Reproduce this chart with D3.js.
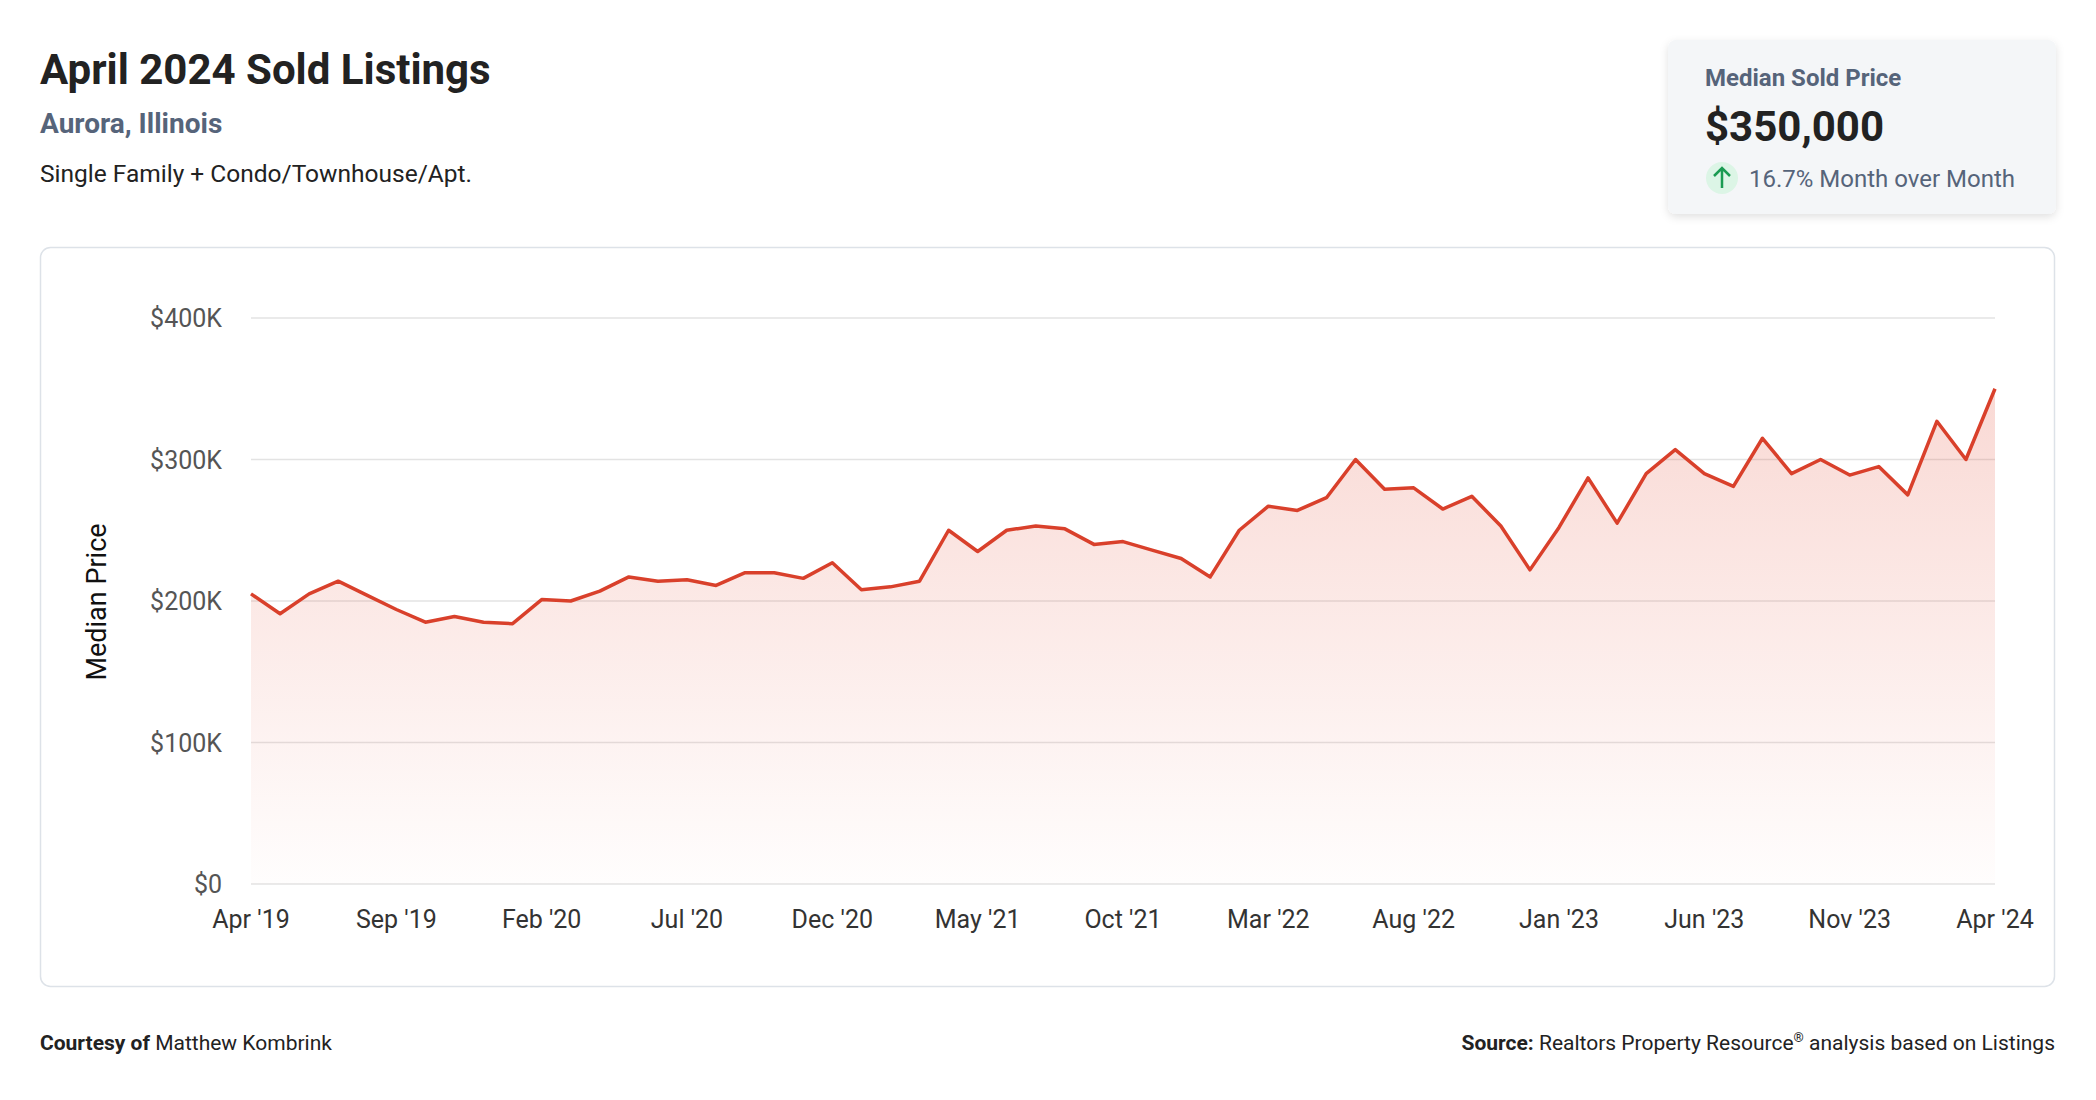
<!DOCTYPE html>
<html><head><meta charset="utf-8">
<script src="https://cdn.jsdelivr.net/npm/d3@7"></script>
<style>
body{margin:0;background:#fff;font-family:Roboto,"Noto Sans",sans-serif;}
svg{display:block}
</style></head><body>
<svg id="c" width="2096" height="1100"></svg>
<script>
const months = ["Apr '19","May '19","Jun '19","Jul '19","Aug '19","Sep '19","Oct '19","Nov '19","Dec '19","Jan '20","Feb '20","Mar '20","Apr '20","May '20","Jun '20","Jul '20","Aug '20","Sep '20","Oct '20","Nov '20","Dec '20","Jan '21","Feb '21","Mar '21","Apr '21","May '21","Jun '21","Jul '21","Aug '21","Sep '21","Oct '21","Nov '21","Dec '21","Jan '22","Feb '22","Mar '22","Apr '22","May '22","Jun '22","Jul '22","Aug '22","Sep '22","Oct '22","Nov '22","Dec '22","Jan '23","Feb '23","Mar '23","Apr '23","May '23","Jun '23","Jul '23","Aug '23","Sep '23","Oct '23","Nov '23","Dec '23","Jan '24","Feb '24","Mar '24","Apr '24"];
const medianPrice = [205,191,205,214,204,194,185,189,185,184,201,200,207,217,214,215,211,220,220,216,227,208,210,214,250,235,250,253,251,240,242,236,230,217,250,267,264,273,300,279,280,265,274,253,222,252,287,255,290,307,290,281,315,290,300,289,295,275,327,300,350].map(v=>v*1000);
const yTicks = [0,100000,200000,300000,400000];
const xTickLabels = ["Apr '19","Sep '19","Feb '20","Jul '20","Dec '20","May '21","Oct '21","Mar '22","Aug '22","Jan '23","Jun '23","Nov '23","Apr '24"];

const svg = d3.select("#c");
const defs = svg.append("defs");
const sh = defs.append("filter").attr("id","sh").attr("x","-10%").attr("y","-10%").attr("width","130%").attr("height","140%");
sh.append("feDropShadow").attr("dx",0).attr("dy",3).attr("stdDeviation",4).attr("flood-color","#000").attr("flood-opacity",0.12);
const g = defs.append("linearGradient").attr("id","fill").attr("x1",0).attr("y1",0).attr("x2",0).attr("y2",1);
g.append("stop").attr("offset","0%").attr("stop-color","#e5533d").attr("stop-opacity",0.22);
g.append("stop").attr("offset","100%").attr("stop-color","#e5533d").attr("stop-opacity",0.01);

// header
svg.append("text").attr("x",40).attr("y",84).attr("font-size",42).attr("font-weight",700).attr("fill","#222").text("April 2024 Sold Listings");
svg.append("text").attr("x",40).attr("y",133).attr("font-size",28).attr("font-weight",700).attr("fill","#56647a").text("Aurora, Illinois");
svg.append("text").attr("x",40).attr("y",182).attr("font-size",24.5).attr("fill","#222").text("Single Family + Condo/Townhouse/Apt.");

// card
svg.append("rect").attr("x",1668).attr("y",40).attr("width",388).attr("height",174).attr("rx",8).attr("fill","#f4f6f8").attr("filter","url(#sh)");
svg.append("text").attr("x",1705).attr("y",86).attr("font-size",24).attr("font-weight",700).attr("fill","#56647a").text("Median Sold Price");
svg.append("text").attr("x",1705).attr("y",141).attr("font-size",42).attr("font-weight",700).attr("fill","#222").text("$350,000");
svg.append("circle").attr("cx",1722).attr("cy",178).attr("r",16).attr("fill","#dcf5e6");
svg.append("path").attr("d","M1722,188 L1722,168 M1714,176 L1722,168 L1730,176").attr("stroke","#1a9b52").attr("stroke-width",2.5).attr("fill","none");
svg.append("text").attr("x",1749).attr("y",187).attr("font-size",24).attr("fill","#56647a").text("16.7% Month over Month");

// chart box
svg.append("rect").attr("x",40.5).attr("y",247.5).attr("width",2014).attr("height",739).attr("rx",10).attr("fill","#fff").attr("stroke","#dde2e8").attr("stroke-width",1.5);

const x = d3.scalePoint().domain(months).range([251,1995]);
const y = d3.scaleLinear().domain([0,400000]).range([884,318]);

svg.append("g").selectAll("line").data(yTicks).join("line")
 .attr("x1",251).attr("x2",1995).attr("y1",d=>y(d)).attr("y2",d=>y(d))
 .attr("stroke","#e3e3e3").attr("stroke-width",1.5);
svg.append("g").selectAll("text").data(yTicks).join("text")
 .attr("x",222).attr("y",d=>y(d)+9).attr("text-anchor","end").attr("font-size",25).attr("fill","#555")
 .text(d=>d===0?"$0":"$"+d/1000+"K");
svg.append("g").selectAll("text").data(xTickLabels).join("text")
 .attr("x",d=>x(d)).attr("y",928).attr("text-anchor","middle").attr("font-size",25).attr("fill","#333").text(d=>d);
svg.append("text").attr("transform","translate(106,602) rotate(-90)").attr("text-anchor","middle").attr("font-size",27).attr("fill","#111").text("Median Price");

const data = months.map((m,i)=>({m,v:medianPrice[i]}));
svg.append("path").datum(data).attr("fill","url(#fill)")
 .attr("d",d3.area().x(d=>x(d.m)).y0(y(0)).y1(d=>y(d.v)));
svg.append("path").datum(data).attr("fill","none").attr("stroke","#d9402b").attr("stroke-width",3.5).attr("stroke-linejoin","round")
 .attr("d",d3.line().x(d=>x(d.m)).y(d=>y(d.v)));

// footer
const f1 = svg.append("text").attr("x",40).attr("y",1050).attr("font-size",21).attr("fill","#222");
f1.append("tspan").attr("font-weight",700).text("Courtesy of ");
f1.append("tspan").text("Matthew Kombrink");
const f2 = svg.append("text").attr("x",2055).attr("y",1050).attr("font-size",21).attr("fill","#222").attr("text-anchor","end");
f2.append("tspan").attr("font-weight",700).text("Source: ");
f2.append("tspan").text("Realtors Property Resource");
f2.append("tspan").attr("font-size",13).attr("dy",-8).text("®");
f2.append("tspan").attr("dy",8).text(" analysis based on Listings");
</script></body></html>
